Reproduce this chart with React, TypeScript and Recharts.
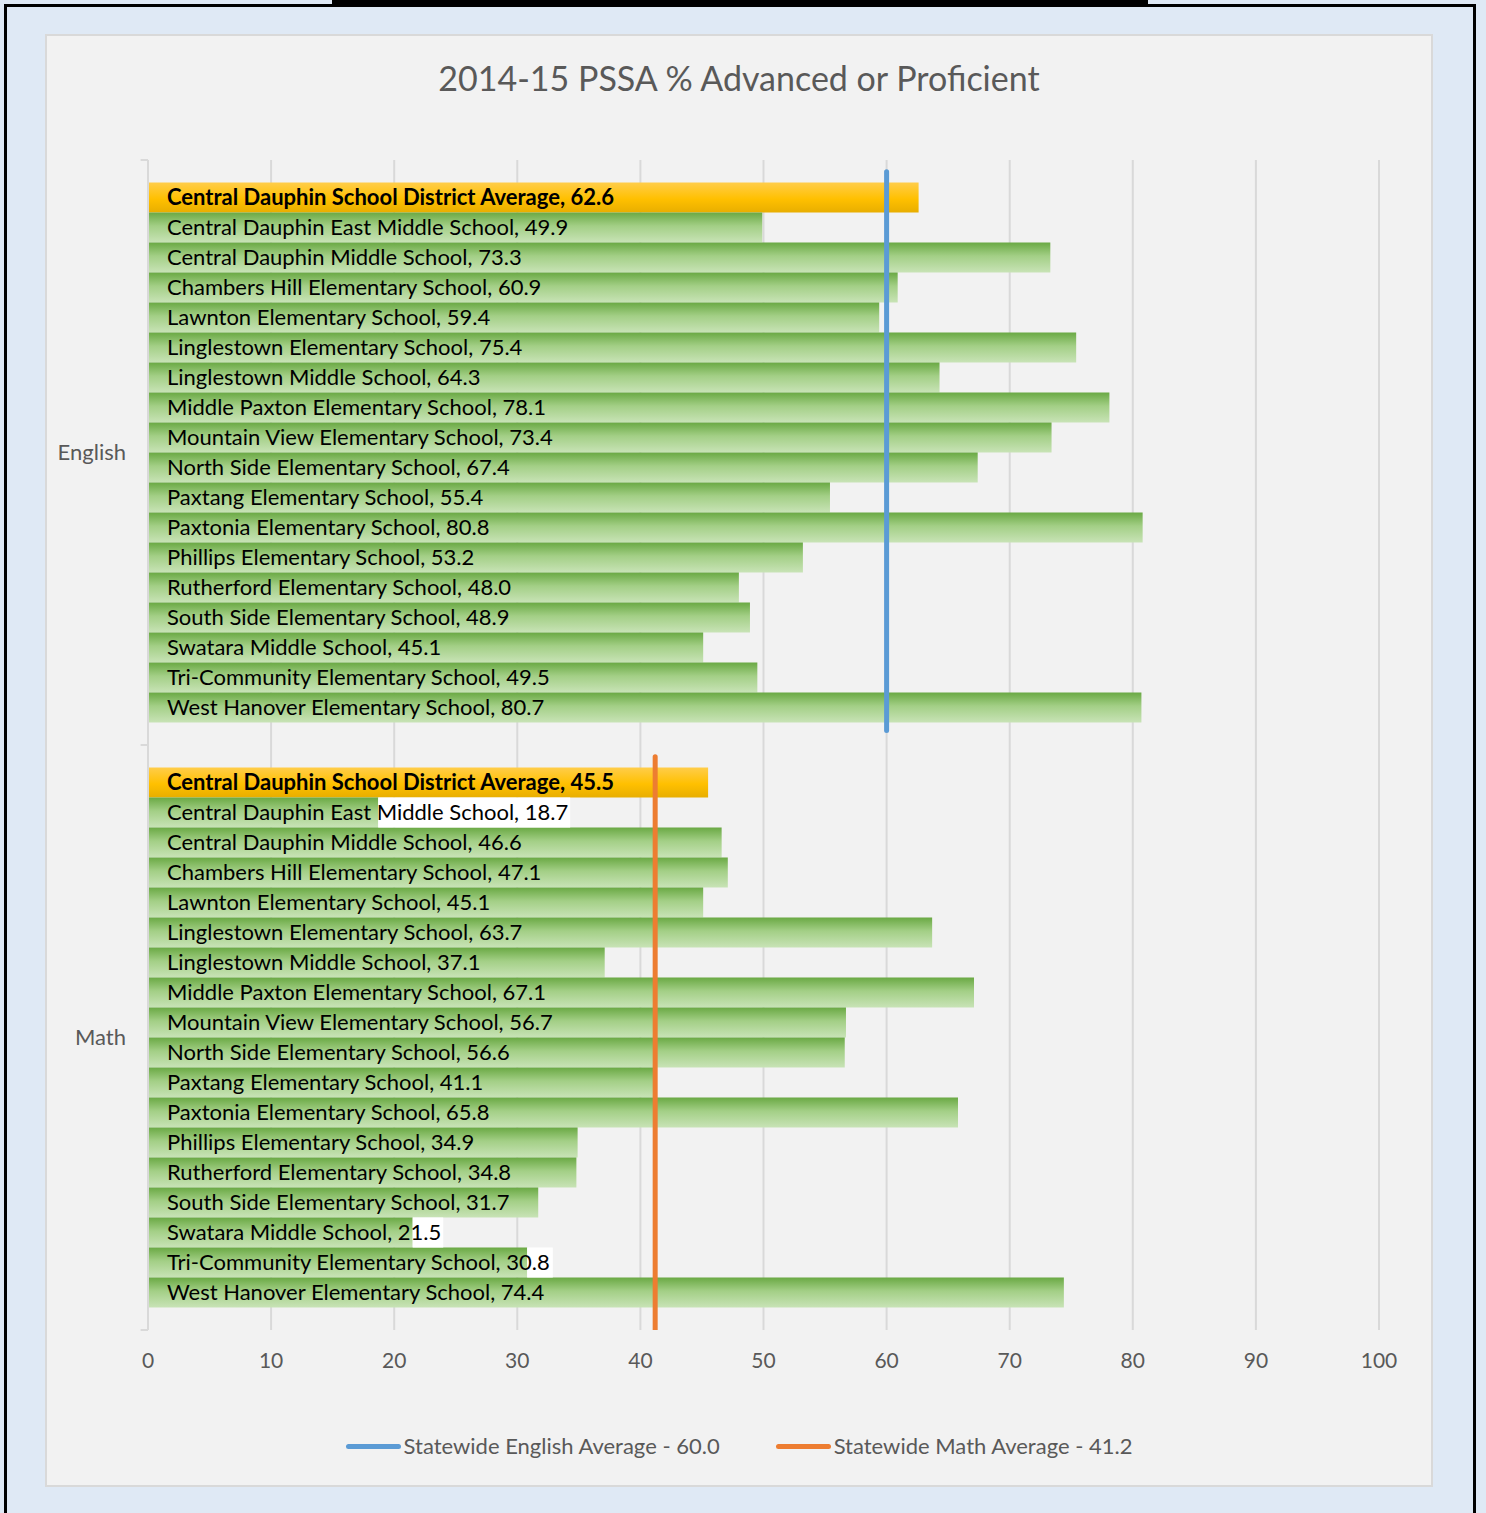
import React from 'react';
import { BarChart, Bar, XAxis, YAxis, CartesianGrid, ReferenceLine, LabelList, ScatterChart, Scatter } from 'recharts';

const groups = ['English', 'Math'];
const districtLabel = 'Central Dauphin School District Average';
const districtAverage = [62.6, 45.5];
const schools = [
  'Central Dauphin East Middle School',
  'Central Dauphin Middle School',
  'Chambers Hill Elementary School',
  'Lawnton Elementary School',
  'Linglestown Elementary School',
  'Linglestown Middle School',
  'Middle Paxton Elementary School',
  'Mountain View Elementary School',
  'North Side Elementary School',
  'Paxtang Elementary School',
  'Paxtonia Elementary School',
  'Phillips Elementary School',
  'Rutherford Elementary School',
  'South Side Elementary School',
  'Swatara Middle School',
  'Tri-Community Elementary School',
  'West Hanover Elementary School',
];
const englishScores = [49.9, 73.3, 60.9, 59.4, 75.4, 64.3, 78.1, 73.4, 67.4, 55.4, 80.8, 53.2, 48.0, 48.9, 45.1, 49.5, 80.7];
const mathScores = [18.7, 46.6, 47.1, 45.1, 63.7, 37.1, 67.1, 56.7, 56.6, 41.1, 65.8, 34.9, 34.8, 31.7, 21.5, 30.8, 74.4];

const statewideNames = ['Statewide English Average', 'Statewide Math Average'];
const statewideAverages = [60.0, 41.2];
const statewideColors = ['#5b9bd5', '#ed7d31'];
// vertical extent of each statewide line, in category units (0 = top of English, 2 = bottom of Math)
const statewideSpans = [[0.02, 0.975], [1.02, 2]];
const groupEdges = [0, 1, 2];

const xTicks = [0, 10, 20, 30, 40, 50, 60, 70, 80, 90, 100];

const FONT = 'Lato, "Open Sans", sans-serif';
const LABEL_SIZE = 22;
const W = 1486;
const H = 1513;
const PLOT = { top: 160, right: 107, bottom: 183, left: 148 };

const rows = groups.map((g, gi) => {
  const scores = gi === 0 ? englishScores : mathScores;
  const row: Record<string, any> = { group: g, district: districtAverage[gi] };
  schools.forEach((_, i) => {
    row[`s${i}`] = scores[i];
  });
  return row;
});

let ctx: CanvasRenderingContext2D | null = null;
const measure = (text: string, font: string) => {
  if (!ctx && typeof document !== 'undefined') ctx = document.createElement('canvas').getContext('2d');
  if (!ctx) return text.length * 10;
  ctx.font = font;
  return ctx.measureText(text).width;
};

const makeLabel = (name: string, bold: boolean) => (props: any) => {
  const box = props.viewBox && props.viewBox.width != null ? props.viewBox : props;
  const x = Number(box.x);
  const y = Number(box.y);
  const w = Number(box.width);
  const h = Number(box.height);
  const value = Number(props.value);
  if (!isFinite(x) || !isFinite(value)) return null;
  const text = `${name}, ${value.toFixed(1)}`;
  const tx = x + 19;
  const tw = measure(text, `${bold ? 'bold ' : ''}${LABEL_SIZE}px Lato`);
  const end = tx + tw + 2;
  return (
    <g>
      {end > x + w && <rect x={x + w} y={y} width={end - x - w} height={h} fill="#ffffff" />}
      <text
        x={tx}
        y={y + h / 2}
        dy="0.35em"
        fontFamily={FONT}
        fontSize={LABEL_SIZE}
        fontWeight={bold ? 700 : 400}
        fill="#000000"
      >
        {text}
      </text>
    </g>
  );
};

const App: React.FC = () => {
  return (
    <div style={{ position: 'absolute', left: 0, top: 0, width: W, height: H, background: '#dfe9f5', overflow: 'hidden', fontFamily: FONT }}>
      <div style={{ position: 'absolute', left: 4, top: 4, width: 1466, height: 1520, border: '3px solid #000', borderBottom: 'none' }} />
      <div style={{ position: 'absolute', left: 332, top: 0, width: 816, height: 6, background: '#000' }} />
      <div style={{ position: 'absolute', left: 45, top: 34, width: 1384, height: 1449, background: '#f2f2f2', border: '2px solid #d9d9d9' }} />
      <div style={{ position: 'absolute', left: 47, top: 57, width: 1384, textAlign: 'center', fontSize: 34, color: '#595959', lineHeight: '42px' }}>
        2014-15 PSSA % Advanced or Proficient
      </div>

      <div style={{ position: 'absolute', left: 0, top: 0 }}>
        <BarChart
          width={W}
          height={H}
          data={rows}
          layout="vertical"
          margin={{ top: PLOT.top, right: PLOT.right, bottom: PLOT.bottom - 60, left: PLOT.left - 100 }}
          barCategoryGap={22.5}
          barGap={0}
        >
          <defs>
            <linearGradient id="greenGrad" x1="0" y1="0" x2="0" y2="1">
              <stop offset="0%" stopColor="#6aa944" />
              <stop offset="45%" stopColor="#a3cf86" />
              <stop offset="100%" stopColor="#c8e3b6" />
            </linearGradient>
            <linearGradient id="goldGrad" x1="0" y1="0" x2="0" y2="1">
              <stop offset="0%" stopColor="#ffcd4a" />
              <stop offset="55%" stopColor="#ffc000" />
              <stop offset="100%" stopColor="#e8ae00" />
            </linearGradient>
          </defs>
          <CartesianGrid horizontal={false} stroke="#d9d9d9" strokeWidth={2} />
          <XAxis
            type="number"
            domain={[0, 100]}
            ticks={xTicks}
            tickLine={false}
            axisLine={false}
            tickMargin={17}
            height={60}
            tick={{ fill: '#595959', fontSize: 21, fontFamily: FONT }}
          />
          <YAxis
            type="category"
            dataKey="group"
            width={100}
            tickLine={false}
            tickMargin={16}
            axisLine={{ stroke: '#d9d9d9', strokeWidth: 2 }}
            tick={{ fill: '#595959', fontSize: 22, fontFamily: FONT }}
          />

          <Bar dataKey="district" fill="url(#goldGrad)" isAnimationActive={false}>
            <LabelList dataKey="district" content={makeLabel(districtLabel, true)} />
          </Bar>
          {schools.map((s, i) => (
            <Bar key={s} dataKey={`s${i}`} fill="url(#greenGrad)" isAnimationActive={false}>
              <LabelList dataKey={`s${i}`} content={makeLabel(s, false)} />
            </Bar>
          ))}
        </BarChart>
      </div>

      {/* overlay with a numeric vertical scale for the statewide average lines */}
      <div style={{ position: 'absolute', left: 0, top: 0, pointerEvents: 'none' }}>
        <ScatterChart width={W} height={H} margin={PLOT}>
          <XAxis type="number" dataKey="x" domain={[0, 100]} hide allowDataOverflow />
          <YAxis type="number" dataKey="y" domain={[0, 2]} reversed hide allowDataOverflow />
          {groupEdges.map((e) => (
            <ReferenceLine
              key={`edge-${e}`}
              ifOverflow="visible"
              segment={[{ x: -0.6, y: e }, { x: 0, y: e }]}
              stroke="#d9d9d9"
              strokeWidth={2}
            />
          ))}
          {statewideAverages.map((v, i) => (
            <Scatter
              key={statewideNames[i]}
              name={statewideNames[i]}
              data={statewideSpans[i].map((y) => ({ x: v, y }))}
              line={{ stroke: statewideColors[i], strokeWidth: 5, strokeLinecap: 'round' }}
              shape={() => <g />}
              fill={statewideColors[i]}
              isAnimationActive={false}
            />
          ))}
        </ScatterChart>
      </div>

      <div style={{ position: 'absolute', left: 47, top: 1432, width: 1384, display: 'flex', justifyContent: 'center', gap: 56, fontSize: 22, color: '#595959', lineHeight: '28px' }}>
        {statewideNames.map((n, i) => (
          <div key={n} style={{ display: 'flex', alignItems: 'center' }}>
            <span style={{ display: 'inline-block', width: 55, height: 5, borderRadius: 3, background: statewideColors[i], marginRight: 3 }} />
            <span>{`${n} - ${statewideAverages[i].toFixed(1)}`}</span>
          </div>
        ))}
      </div>
    </div>
  );
};

export default App;
